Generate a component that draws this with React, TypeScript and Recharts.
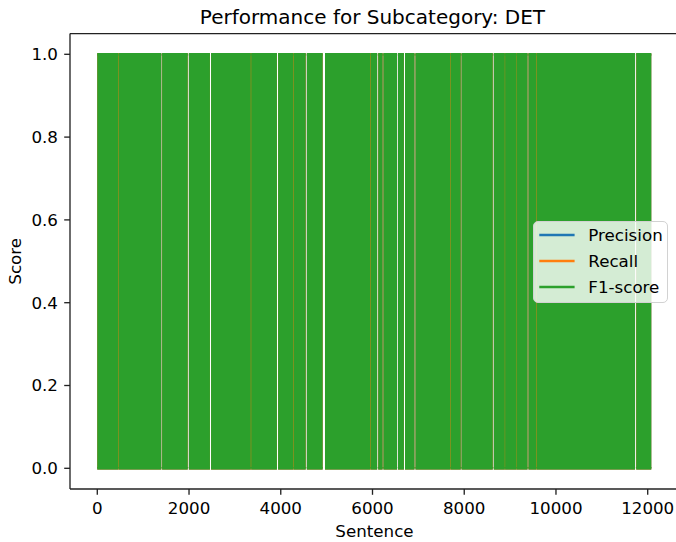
import React from 'react';
import { ComposedChart, Area, XAxis, YAxis, Legend } from 'recharts';

// ---- data ----
const sentenceFirst = 0;
const sentenceLast = 12077;
// every score swings between these two values over the whole run
const scoreLow = 0;
const scoreHigh = 1;

const xTicks = [0, 2000, 4000, 6000, 8000, 10000, 12000];
const yTicks = [0, 0.2, 0.4, 0.6, 0.8, 1.0];

// sentence stretches where all three scores are undefined (white gaps)
const allUndefined: [number, number][] = [
  [1395, 1413], [1971, 1997], [2456, 2480], [3916, 3942], [4543, 4569],
  [4912, 4964], [6101, 6125], [6219, 6239], [6535, 6555], [6685, 6709],
  [6914, 6938], [7924, 7942], [8621, 8645], [9379, 9401], [11724, 11750],
];
// stretches where precision and F1 are undefined but recall is drawn
const recallOnly: [number, number][] = [
  [454, 462], [3347, 3355], [4269, 4277], [5952, 5960],
  [7700, 7708], [8885, 8891], [9140, 9146], [9575, 9583],
];

const precisionGaps = [...allUndefined, ...recallOnly];
const recallGaps = allUndefined;
const f1Gaps = [...allUndefined, ...recallOnly];

const seriesKeys = ['precision', 'recall', 'f1'];
const seriesNames = ['Precision', 'Recall', 'F1-score'];
const seriesColors = ['#1f77b4', '#ff7f0e', '#2ca02c'];
const seriesGaps = [precisionGaps, recallGaps, f1Gaps];

// ---- build table for recharts ----
const inGap = (x: number, gaps: [number, number][]) => gaps.some(([a, b]) => x > a && x < b);
const xsSet = new Set<number>([sentenceFirst, sentenceLast]);
[...allUndefined, ...recallOnly].forEach(([a, b]) => {
  xsSet.add(a);
  xsSet.add((a + b) / 2);
  xsSet.add(b);
});
const data = Array.from(xsSet)
  .sort((p, q) => p - q)
  .map((x) => {
    const row: any = { x };
    seriesKeys.forEach((k, i) => {
      row[k] = inGap(x, seriesGaps[i]) ? null : [scoreLow, scoreHigh];
    });
    return row;
  });

const FONT = 'DejaVu Sans';
const AX = '#222';
const W = 700;
const H = 542;
const plotLeft = 70;
const plotRight = 678.9;
const plotTop = 33.6;
const plotBottom = 489;
const cx = (plotLeft + plotRight) / 2;
const cy = (plotTop + plotBottom) / 2;

const renderTitle = () => (
  <text x={cx - 2} y={23.6} textAnchor="middle" fontSize={20} fontFamily={FONT} fill="#000">
    Performance for Subcategory: DET
  </text>
);
const renderXLabel = () => (
  <text x={cx} y={536.6} textAnchor="middle" fontSize={16.7} fontFamily={FONT} fill="#000">
    Sentence
  </text>
);
const renderYLabel = () => (
  <text
    x={20.8}
    y={cy}
    transform={`rotate(-90 20.8 ${cy})`}
    textAnchor="middle"
    fontSize={16.7}
    fontFamily={FONT}
    fill="#000"
  >
    Score
  </text>
);

const renderLegend = (props: any) => {
  const payload = [...(props.payload || [])].sort(
    (a: any, b: any) => seriesNames.indexOf(a.value) - seriesNames.indexOf(b.value)
  );
  return (
    <div
      style={{
        position: 'relative',
        width: 135,
        height: 82,
        boxSizing: 'border-box',
        border: '1px solid #d2d2d2',
        borderRadius: 5,
        background: 'rgba(255,255,255,0.8)',
        fontFamily: FONT,
        fontSize: 16.7,
        color: '#000',
      }}
    >
      {payload.map((e: any, i: number) => (
        <div
          key={e.value}
          style={{
            position: 'absolute',
            left: 0,
            top: 1.6 + i * 25.7,
            height: 24,
            display: 'flex',
            alignItems: 'center',
            whiteSpace: 'nowrap',
          }}
        >
          <svg width={41} height={24} style={{ display: 'block' }}>
            <line x1={5.3} x2={40.6} y1={12} y2={12} stroke={e.color} strokeWidth={2.5} />
          </svg>
          <span style={{ marginLeft: 13.6, lineHeight: '24px' }}>{e.value}</span>
        </div>
      ))}
    </div>
  );
};

export default function App() {
  const xDomain: [number, number] = [-595, 12680];
  return (
    <div style={{ position: 'absolute', left: 0, top: 0, width: 676, height: 542, overflow: 'hidden', background: '#fff' }}>
      <ComposedChart
        width={W}
        height={H}
        data={data}
        margin={{ top: plotTop - 1, right: W - plotRight, bottom: 0, left: 0 }}
      >
        <XAxis
          xAxisId="t"
          orientation="top"
          type="number"
          dataKey="x"
          domain={xDomain}
          allowDataOverflow
          height={1}
          ticks={xTicks}
          tick={false}
          tickLine={false}
          axisLine={{ stroke: AX, strokeWidth: 1.33 }}
          label={renderTitle}
        />
        <XAxis
          xAxisId="b"
          type="number"
          dataKey="x"
          domain={xDomain}
          allowDataOverflow
          ticks={xTicks}
          interval={0}
          height={H - plotBottom}
          tickSize={5.8}
          tickMargin={7}
          axisLine={{ stroke: AX, strokeWidth: 1.33 }}
          tickLine={{ stroke: AX, strokeWidth: 1.33 }}
          tick={{ fill: '#000', fontSize: 16.7, fontFamily: FONT }}
          label={renderXLabel}
        />
        <YAxis
          yAxisId="l"
          type="number"
          domain={[-0.05, 1.05]}
          allowDataOverflow
          ticks={yTicks}
          interval={0}
          tickFormatter={(v: number) => v.toFixed(1)}
          width={plotLeft}
          tickSize={5.8}
          tickMargin={6.2}
          axisLine={{ stroke: AX, strokeWidth: 1.33 }}
          tickLine={{ stroke: AX, strokeWidth: 1.33 }}
          tick={{ fill: '#000', fontSize: 16.7, fontFamily: FONT }}
          label={renderYLabel}
        />
        {seriesKeys.map((k, i) => (
          <Area
            key={k}
            xAxisId="b"
            yAxisId="l"
            type="linear"
            dataKey={k}
            name={seriesNames[i]}
            stroke={seriesColors[i]}
            strokeWidth={2.5}
            fill={seriesColors[i]}
            fillOpacity={1}
            connectNulls={false}
            dot={false}
            activeDot={false}
            legendType="line"
            isAnimationActive={false}
          />
        ))}
        <Legend
          layout="horizontal"
          align="center"
          verticalAlign="middle"
          content={renderLegend}
          wrapperStyle={{ left: 532.7, top: 220.7, width: 135, height: 82 }}
        />
      </ComposedChart>
    </div>
  );
}
